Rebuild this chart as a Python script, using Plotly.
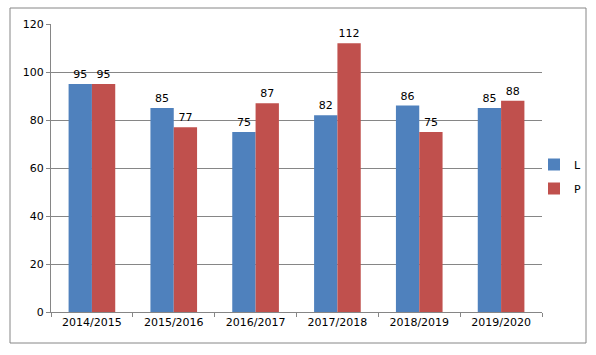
import plotly.graph_objects as go

categories = ["2014/2015", "2015/2016", "2016/2017", "2017/2018", "2018/2019", "2019/2020"]
L_values = [95, 85, 75, 82, 86, 85]
P_values = [95, 77, 87, 112, 75, 88]
y_ticks = [0, 20, 40, 60, 80, 100, 120]

W, H = 596, 355
ml, mr, mt, mb = 51, 54, 24, 43
pw, ph = W - ml - mr, H - mt - mb

def px_x(x):
    return (x - ml) / pw

def px_y(y):
    return (H - mb - y) / ph

font = dict(family="DejaVu Sans", size=11, color="#000000")

fig = go.Figure()
fig.add_trace(go.Bar(x=categories, y=L_values, name="L", marker_color="#4F81BD",
                     marker_line_width=0, legendgroup="L",
                     text=L_values, textposition="outside", textfont=font, cliponaxis=False))
fig.add_trace(go.Bar(x=categories, y=P_values, name="P", marker_color="#C0504D",
                     marker_line_width=0, legendgroup="P",
                     text=P_values, textposition="outside", textfont=font, cliponaxis=False))

fig.update_layout(
    width=W, height=H,
    margin=dict(l=ml, r=mr, t=mt, b=mb, autoexpand=False),
    paper_bgcolor="white", plot_bgcolor="white",
    barmode="group", bargap=0.43, bargroupgap=0,
    font=font,
    legend=dict(x=px_x(534), y=px_y(150), xanchor="left", yanchor="top",
                bgcolor="rgba(0,0,0,0)", font=dict(family="DejaVu Sans", size=11),
                itemwidth=30, tracegroupgap=5),
    xaxis=dict(showline=True, linecolor="#868686", linewidth=1, ticks="outside",
               tickson="boundaries", ticklen=4, tickcolor="#868686",
               showgrid=False, tickfont=font, automargin=False),
    yaxis=dict(range=[0, 120], tickvals=y_ticks, showline=True, linecolor="#868686",
               linewidth=1, ticks="outside", ticklen=4, tickcolor="#868686",
               showgrid=True, gridcolor="#868686", gridwidth=1, zeroline=False,
               tickfont=font, automargin=False),
    shapes=[dict(type="rect", xref="paper", yref="paper",
                 x0=px_x(10), x1=px_x(586), y0=px_y(343), y1=px_y(8),
                 line=dict(color="#868686", width=1), fillcolor="rgba(0,0,0,0)", layer="below")],
)

fig.write_html("out.html", config={"displayModeBar": False},
               post_script="document.body.style.margin='0';document.body.style.overflow='hidden';")
